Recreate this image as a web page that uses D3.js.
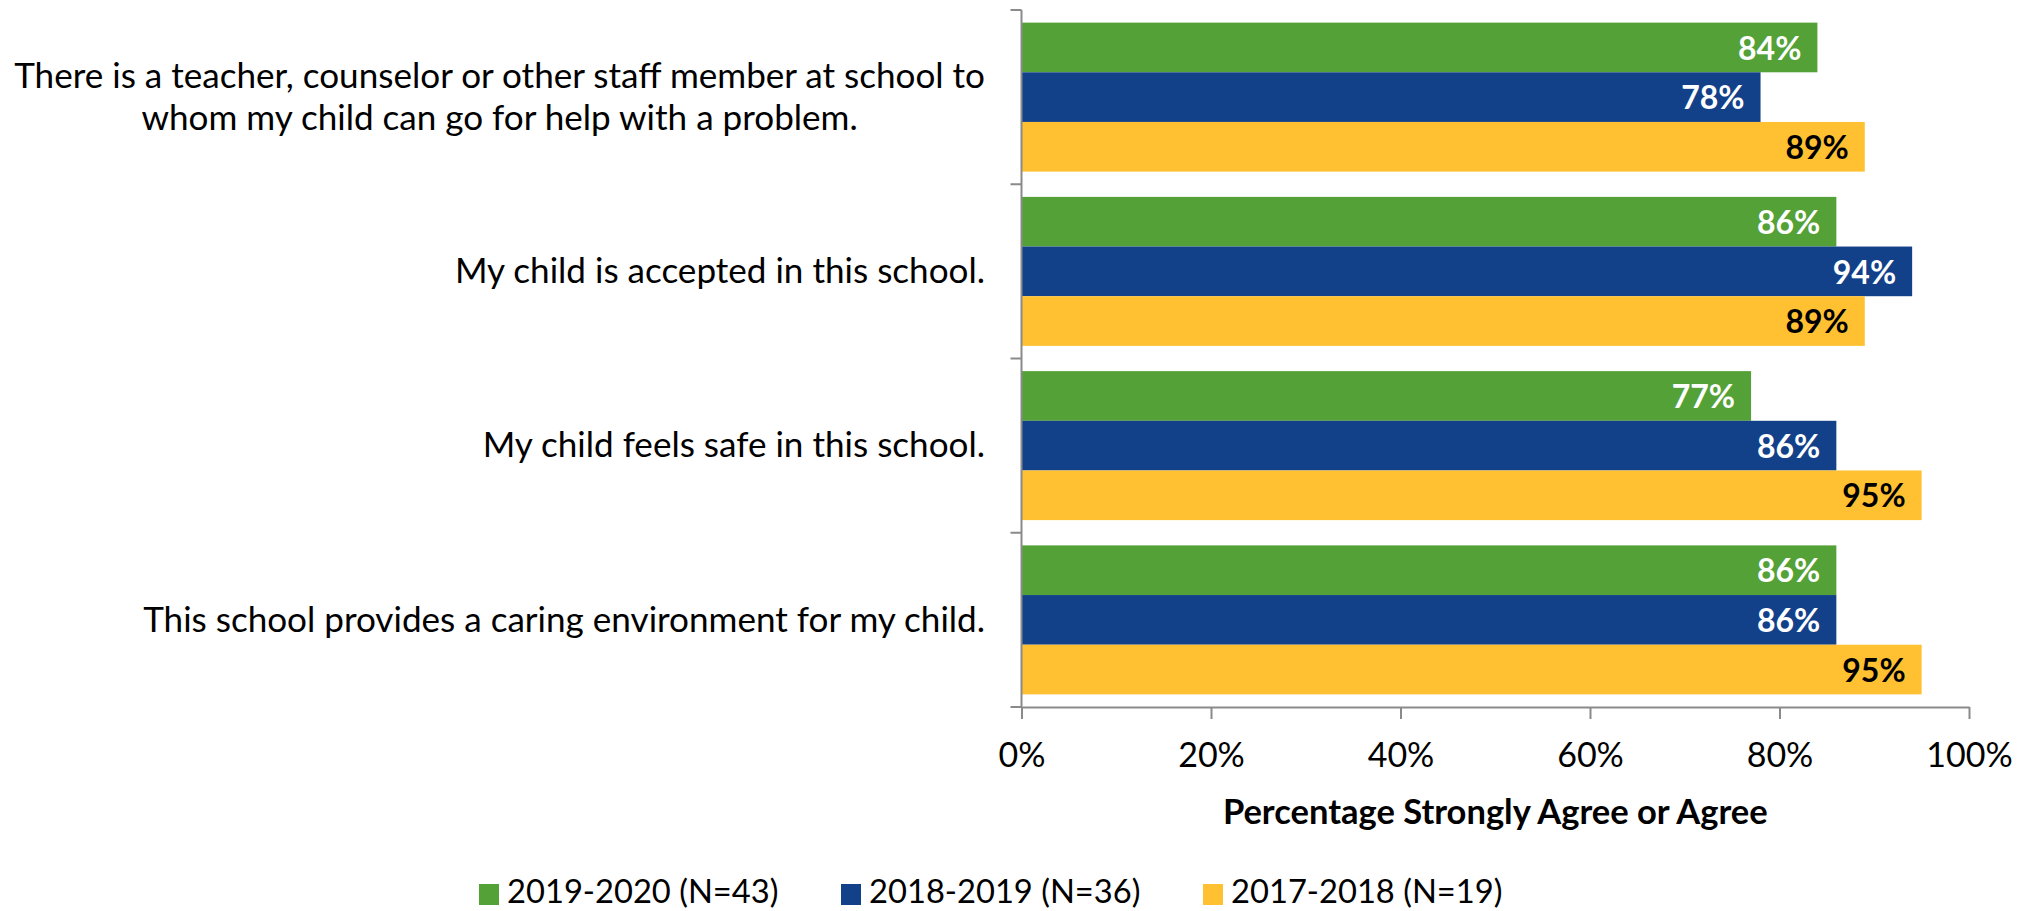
<!DOCTYPE html>
<html>
<head>
<meta charset="utf-8">
<script src="https://cdn.jsdelivr.net/npm/d3@7"></script>
<style>
  html, body { margin: 0; padding: 0; background: #ffffff; }
  svg { display: block; }
  text { font-family: Lato, "Open Sans", sans-serif; fill: #000; }
</style>
</head>
<body>
<svg id="chart" width="2030" height="911"></svg>
<script>
// ---- data ----
const categories = [
  "There is a teacher, counselor or other staff member at school to\nwhom my child can go for help with a problem.",
  "My child is accepted in this school.",
  "My child feels safe in this school.",
  "This school provides a caring environment for my child."
];
const seriesNames = ["2019-2020 (N=43)", "2018-2019 (N=36)", "2017-2018 (N=19)"];
const values2019_2020 = [84, 86, 77, 86];
const values2018_2019 = [78, 94, 86, 86];
const values2017_2018 = [89, 89, 95, 95];
const xTicks = [0, 20, 40, 60, 80, 100];
const xAxisTitle = "Percentage Strongly Agree or Agree";

const seriesValues = [values2019_2020, values2018_2019, values2017_2018];
const colors = ["#54A137", "#134189", "#FFC132"];
const labelColors = ["#ffffff", "#ffffff", "#000000"];

// ---- layout ----
const plotLeft = 1021.5, plotRight = 1969, plotTop = 10, plotBottom = 707;
const axisColor = "#8a8a8a";
const svg = d3.select("#chart");

const x = d3.scaleLinear().domain([0, 100]).range([plotLeft, plotRight]);
const y = d3.scaleBand().domain(categories).range([plotTop, plotBottom])
  .paddingInner(0.145).paddingOuter(0.0725);
const yi = d3.scaleBand().domain(seriesNames).range([0, y.bandwidth()]);

// bars
const rows = [];
categories.forEach((c, ci) => {
  seriesNames.forEach((s, si) => {
    rows.push({ cat: c, series: s, si: si, value: seriesValues[si][ci] });
  });
});

svg.append("g").selectAll("rect").data(rows).join("rect")
  .attr("x", x(0))
  .attr("y", d => y(d.cat) + yi(d.series))
  .attr("width", d => x(d.value) - x(0))
  .attr("height", yi.bandwidth())
  .attr("fill", d => colors[d.si]);

// bar value labels
svg.append("g").selectAll("text").data(rows).join("text")
  .attr("x", d => x(d.value) - 16)
  .attr("y", d => y(d.cat) + yi(d.series) + yi.bandwidth() / 2)
  .attr("dy", "0.38em")
  .attr("text-anchor", "end")
  .style("font-size", "32px")
  .style("font-weight", "bold")
  .style("fill", d => labelColors[d.si])
  .text(d => d.value + "%");

// vertical axis line + category ticks
const gAxis = svg.append("g");
gAxis.append("line")
  .attr("x1", plotLeft).attr("x2", plotLeft)
  .attr("y1", plotTop).attr("y2", plotBottom)
  .attr("stroke", axisColor).attr("stroke-width", 2);
const boundaries = categories.map(c => y(c) - y.step() * y.paddingOuter()).concat([plotBottom]);
gAxis.selectAll("line.ct").data(boundaries).join("line")
  .attr("class", "ct")
  .attr("x1", plotLeft - 11).attr("x2", plotLeft)
  .attr("y1", d => d).attr("y2", d => d)
  .attr("stroke", axisColor).attr("stroke-width", 2);

// x axis
const xAxis = d3.axisBottom(x).tickValues(xTicks).tickFormat(d => d + "%").tickSize(12).tickSizeOuter(0);
const gx = svg.append("g").attr("transform", `translate(0,${plotBottom})`).call(xAxis);
gx.select(".domain").attr("stroke", axisColor).attr("stroke-width", 2);
gx.selectAll(".tick line").attr("stroke", axisColor).attr("stroke-width", 2);
gx.selectAll(".tick text")
  .attr("y", 60).attr("dy", 0)
  .style("font-size", "34px")
  .style("font-family", "Lato, sans-serif")
  .attr("fill", "#000");

// axis title
svg.append("text")
  .attr("x", (plotLeft + plotRight) / 2)
  .attr("y", 824)
  .attr("text-anchor", "middle")
  .style("font-size", "34.5px")
  .style("font-weight", "bold")
  .text(xAxisTitle);

// category labels (block right-aligned, lines centered)
const labelRight = 985, lineGap = 42;
categories.forEach(c => {
  const lines = c.split("\n");
  const g = svg.append("g");
  const center = y(c) + y.bandwidth() / 2 - 1;
  const texts = lines.map((ln, i) => g.append("text")
    .attr("y", center + (i - (lines.length - 1) / 2) * lineGap)
    .attr("dy", "0.36em")
    .attr("text-anchor", "middle")
    .style("font-size", "35.1px")
    .text(ln));
  const maxW = d3.max(texts, t => t.node().getComputedTextLength());
  texts.forEach(t => t.attr("x", labelRight - maxW / 2));
});

// legend
const legend = svg.append("g");
seriesNames.forEach((s, i) => {
  const lx = 479 + i * 362;
  legend.append("rect").attr("x", lx).attr("y", 884).attr("width", 20).attr("height", 21).attr("fill", colors[i]);
  legend.append("text").attr("x", lx + 28).attr("y", 903).style("font-size", "32.7px").text(s);
});
</script>
</body>
</html>
